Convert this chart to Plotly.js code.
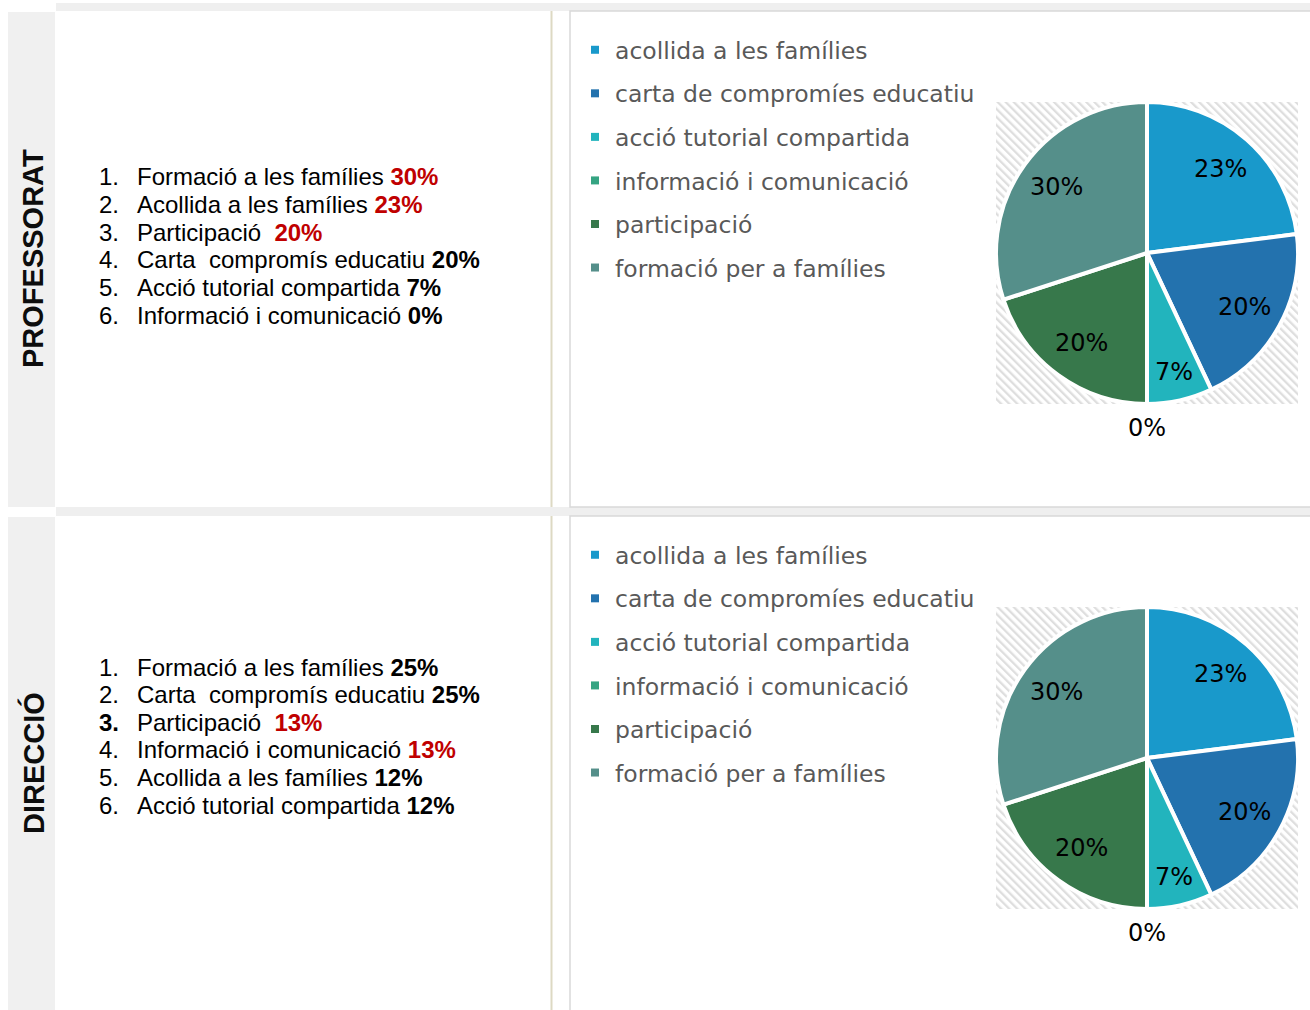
<!DOCTYPE html>
<html><head><meta charset="utf-8">
<script src="https://cdn.plot.ly/plotly-3.0.1.min.js"></script>
<style>html,body{margin:0;padding:0;background:#fff;}#chart{width:1310px;height:1010px;}</style>
</head><body><div id="chart"></div>
<script>
const W = 1310, H = 1010;

// ---- data ----
const sliceLabels = ['acollida a les famílies', 'carta de compromíes educatiu', 'acció tutorial compartida', 'informació i comunicació', 'participació', 'formació per a famílies'];
const sliceColors = ['#1999CB', '#2372AE', '#22B4BD', '#35A482', '#37784B', '#558F8A'];
const profSlices = [23, 20, 7, 0, 20, 30];
const direcSlices = [23, 20, 7, 0, 20, 30];

const sectionNames = ['PROFESSORAT', 'DIRECCIÓ'];
const profItems = ['Formació a les famílies', 'Acollida a les famílies', 'Participació ', 'Carta  compromís educatiu', 'Acció tutorial compartida', 'Informació i comunicació'];
const profPct = [30, 23, 20, 20, 7, 0];
const profRed = [true, true, true, false, false, false];
const profBoldNum = [false, false, false, false, false, false];
const direcItems = ['Formació a les famílies', 'Carta  compromís educatiu', 'Participació ', 'Informació i comunicació', 'Acollida a les famílies', 'Acció tutorial compartida'];
const direcPct = [25, 25, 13, 13, 12, 12];
const direcRed = [false, false, true, true, false, false];
const direcBoldNum = [false, false, true, false, false, false];

// ---- helpers ----
const X = px => px / W;
const Y = py => 1 - py / H;
function rect(x0, y0, x1, y1, fill, lineColor, lw) {
  return {type: 'rect', xref: 'paper', yref: 'paper', x0: X(x0), x1: X(x1), y0: Y(y1), y1: Y(y0),
    fillcolor: fill || 'rgba(0,0,0,0)', line: {color: lineColor || 'rgba(0,0,0,0)', width: lineColor ? (lw || 1) : 0}, layer: 'below'};
}
function vline(x, y0, y1, color, w) {
  return {type: 'line', xref: 'paper', yref: 'paper', x0: X(x), x1: X(x), y0: Y(y0), y1: Y(y1), line: {color: color, width: w}, layer: 'below'};
}

const rowOffset = [0, 505];
const shapes = [
  rect(56, 3, 1310, 11, '#efefef'),
  rect(8, 12, 55, 507, '#f0f0f0'),
  rect(8, 517, 55, 1010, '#f0f0f0'),
  rect(56, 507, 1310, 516, '#efefef'),
  rect(570, 11, 1314, 507, null, '#d9d9d9', 1.5),
  rect(570, 516, 1314, 1014, null, '#d9d9d9', 1.5),
  vline(551.5, 11, 507, '#ddd9c3', 2),
  vline(551.5, 516, 1010, '#ddd9c3', 2)
];

const hatchSvg = "<svg xmlns='http://www.w3.org/2000/svg' width='302' height='302' viewBox='0 0 302 302'>" +
  "<defs><pattern id='p' width='5.7' height='5.7' patternUnits='userSpaceOnUse' patternTransform='rotate(-45)'>" +
  "<rect x='0' y='0' width='2.3' height='5.7' fill='#dedede'/></pattern></defs>" +
  "<rect width='302' height='302' fill='#ffffff'/><rect width='302' height='302' fill='url(#p)'/></svg>";
const hatchSrc = 'data:image/svg+xml;charset=utf-8,' + encodeURIComponent(hatchSvg);
const images = rowOffset.map(o => ({
  source: hatchSrc, xref: 'paper', yref: 'paper', x: X(996), y: Y(102 + o),
  sizex: 302 / W, sizey: 302 / H, xanchor: 'left', yanchor: 'top', sizing: 'stretch', layer: 'below'
}));

// ---- annotations (lists and section names) ----
const annotations = [];
const lists = [
  {items: profItems, pct: profPct, red: profRed, boldNum: profBoldNum},
  {items: direcItems, pct: direcPct, red: direcRed, boldNum: direcBoldNum}
];
const listFont = {family: 'Liberation Sans, Arial, sans-serif', size: 24, color: '#000000'};
lists.forEach((L, r) => {
  const top = 177 + (r === 0 ? 0 : 490);
  L.items.forEach((it, i) => {
    const yy = Y(top + i * 27.6);
    const num = (i + 1) + '.';
    annotations.push({xref: 'paper', yref: 'paper', x: X(97), y: yy, xanchor: 'left', yanchor: 'middle',
      text: L.boldNum[i] ? '<b>' + num + '</b>' : num, showarrow: false, font: listFont});
    const pctTxt = L.pct[i] + '%';
    const pctHtml = L.red[i] ? '<b><span style="color:#c00000">' + pctTxt + '</span></b>' : '<b>' + pctTxt + '</b>';
    annotations.push({xref: 'paper', yref: 'paper', x: X(135), y: yy, xanchor: 'left', yanchor: 'middle',
      text: it + ' ' + pctHtml, showarrow: false, font: listFont});
  });
});
sectionNames.forEach((s, r) => {
  annotations.push({xref: 'paper', yref: 'paper', x: X(33), y: Y(259 + r * 504), xanchor: 'center', yanchor: 'middle',
    text: '<b>' + s + '</b>', textangle: -90, showarrow: false,
    font: {family: 'Liberation Sans, Arial, sans-serif', size: 29, color: '#0d0d0d'}});
});

// ---- pies ----
const PIE_CX = 1147, PIE_CY = 253, PIE_R = 151;
const pieFont = {family: 'DejaVu Sans, sans-serif', size: 24, color: '#000000'};
function pieTrace(values, o) {
  return {
    type: 'pie', values: values, labels: sliceLabels, sort: false, direction: 'clockwise', rotation: 0,
    marker: {colors: sliceColors, line: {color: '#ffffff', width: 4}},
    textinfo: 'none',
    domain: {x: [X(PIE_CX - PIE_R), X(PIE_CX + PIE_R)], y: [Y(PIE_CY + PIE_R + o), Y(PIE_CY - PIE_R + o)]},
    showlegend: false, hoverinfo: 'skip'
  };
}
// percentage labels placed at each slice's mid-angle (best-fit style)
function pieLabels(values, o) {
  const total = values.reduce((a, b) => a + b, 0);
  let cum = 0;
  values.forEach(v => {
    const frac = v / total;
    const mid = 2 * Math.PI * (cum + frac / 2);
    cum += frac;
    const k = v === 0 ? 1.16 : (frac < 0.1 ? 0.81 : 0.74);
    const px = PIE_CX + k * PIE_R * Math.sin(mid);
    const py = PIE_CY + o - k * PIE_R * Math.cos(mid);
    annotations.push({xref: 'paper', yref: 'paper', x: X(px), y: Y(py), xanchor: 'center', yanchor: 'middle',
      text: Math.round(frac * 100) + '%', showarrow: false, font: pieFont});
  });
}
pieLabels(profSlices, 0);
pieLabels(direcSlices, 505);

const traces = [pieTrace(profSlices, 0), pieTrace(direcSlices, 505)];
['legend', 'legend2'].forEach(lg => {
  sliceLabels.forEach((lab, i) => {
    traces.push({type: 'scatter', x: [null], y: [null], mode: 'markers', name: lab,
      marker: {symbol: 'square', size: 8, color: sliceColors[i]},
      legend: lg, legendgroup: lg + '_' + i, hoverinfo: 'skip', showlegend: true});
  });
});

const legendBase = {xanchor: 'left', yanchor: 'top', x: X(575), bgcolor: 'rgba(0,0,0,0)', borderwidth: 0,
  font: {family: 'DejaVu Sans, sans-serif', size: 23.5, color: '#595959'}, traceorder: 'grouped', tracegroupgap: 10};

const layout = {
  width: W, height: H, margin: {l: 0, r: 0, t: 0, b: 0},
  paper_bgcolor: '#ffffff', plot_bgcolor: 'rgba(0,0,0,0)',
  xaxis: {visible: false, domain: [0, 0.001]}, yaxis: {visible: false, domain: [0, 0.001]},
  legend: Object.assign({}, legendBase, {y: Y(28)}),
  legend2: Object.assign({}, legendBase, {y: Y(533)}),
  shapes: shapes, images: images, annotations: annotations,
  hovermode: false, showlegend: true
};

Plotly.newPlot('chart', traces, layout, {displayModeBar: false, staticPlot: true});
</script>
</body></html>
